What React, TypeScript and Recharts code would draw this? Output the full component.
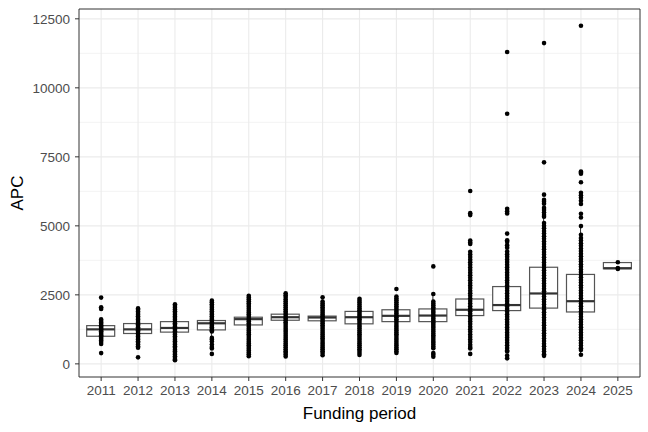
/**
 * APC by funding period — box plots with every observation drawn on top
 */

import React from "react";
import {
  ComposedChart,
  Bar,
  Scatter,
  XAxis,
  YAxis,
  CartesianGrid,
  ReferenceArea,
  Label,
} from "recharts";

const years = [
  "2011", "2012", "2013", "2014", "2015", "2016", "2017", "2018",
  "2019", "2020", "2021", "2022", "2023", "2024", "2025",
];

const q1 = [1000, 1100, 1150, 1230, 1410, 1580, 1560, 1450, 1530, 1530, 1750, 1930, 2020, 1880, 3445];
const medians = [1250, 1250, 1300, 1470, 1620, 1690, 1680, 1690, 1740, 1750, 1960, 2130, 2550, 2270, 3466];
const q3 = [1385, 1460, 1530, 1570, 1690, 1800, 1730, 1900, 1960, 1990, 2350, 2800, 3500, 3240, 3670];

const pts2011 = [2400, 2050, 1985, 1610, 1555, 1500, 1455, 1400, 1350, 1310, 1265, 1225, 1180, 1130, 1085, 1040, 990, 945, 900, 850, 790, 720, 390];
const pts2012 = [2010, 1960, 1900, 1845, 1780, 1725, 1660, 1605, 1550, 1490, 1435, 1380, 1325, 1270, 1215, 1160, 1105, 1050, 990, 935, 880, 820, 765, 700, 640, 585, 235];
const pts2013 = [2160, 2095, 2030, 1965, 1905, 1840, 1780, 1715, 1660, 1600, 1535, 1475, 1415, 1355, 1300, 1240, 1180, 1120, 1060, 1000, 935, 875, 820, 755, 700, 635, 580, 515, 460, 395, 335, 275, 215, 160, 130];
const pts2014 = [2290, 2230, 2160, 2095, 2030, 1965, 1905, 1845, 1785, 1725, 1665, 1610, 1550, 1495, 1440, 1385, 1330, 1275, 1220, 1170, 940, 880, 810, 700, 610, 560, 360];
const pts2015 = [2470, 2400, 2340, 2270, 2200, 2130, 2065, 1995, 1925, 1860, 1795, 1730, 1665, 1600, 1540, 1470, 1405, 1340, 1270, 1205, 1140, 1075, 1005, 940, 870, 805, 740, 675, 610, 545, 480, 415, 350, 280];
const pts2016 = [2560, 2490, 2420, 2345, 2270, 2195, 2120, 2050, 1980, 1910, 1845, 1775, 1710, 1645, 1580, 1510, 1440, 1370, 1300, 1230, 1160, 1090, 1020, 950, 880, 810, 740, 670, 600, 530, 460, 400, 335, 270];
const pts2017 = [2410, 2255, 2190, 2120, 2050, 1990, 1920, 1855, 1790, 1725, 1660, 1600, 1535, 1470, 1400, 1335, 1270, 1200, 1130, 1065, 995, 930, 860, 790, 725, 660, 590, 525, 460, 390, 315];
const pts2018 = [2360, 2290, 2220, 2150, 2080, 2010, 1945, 1880, 1810, 1745, 1680, 1615, 1550, 1480, 1410, 1345, 1280, 1210, 1140, 1075, 1005, 940, 870, 800, 735, 670, 600, 530, 465, 395, 320];
const pts2019 = [2710, 2440, 2370, 2300, 2230, 2160, 2090, 2025, 1955, 1885, 1820, 1750, 1685, 1620, 1550, 1480, 1410, 1345, 1275, 1210, 1140, 1070, 1005, 935, 870, 800, 730, 665, 595, 530, 460, 395];
const pts2020 = [3530, 2530, 2260, 2190, 2120, 2050, 1985, 1915, 1850, 1780, 1710, 1645, 1580, 1510, 1440, 1375, 1305, 1240, 1170, 1100, 1035, 970, 900, 830, 765, 700, 630, 570, 390, 330, 260];
const pts2021 = [6260, 5460, 5390, 4470, 4400, 4340, 4060, 3965, 3870, 3775, 3680, 3590, 3495, 3400, 3305, 3210, 3120, 3025, 2930, 2840, 2745, 2650, 2560, 2465, 2370, 2280, 2185, 2090, 2000, 1905, 1815, 1720, 1625, 1535, 1440, 1345, 1255, 1160, 1065, 975, 880, 790, 695, 610, 560, 360];
const pts2022 = [11300, 9060, 5620, 5530, 5450, 4720, 4480, 4420, 4300, 4210, 4070, 3975, 3880, 3785, 3690, 3595, 3500, 3405, 3310, 3215, 3120, 3030, 2935, 2840, 2745, 2650, 2555, 2460, 2365, 2275, 2180, 2085, 1990, 1895, 1800, 1705, 1615, 1520, 1425, 1330, 1235, 1140, 1045, 955, 860, 765, 670, 575, 480, 450, 300, 200];
const pts2023 = [11620, 7300, 6130, 5940, 5870, 5800, 5650, 5570, 5480, 5390, 5330, 5100, 5005, 4910, 4815, 4720, 4625, 4530, 4435, 4340, 4245, 4150, 4055, 3960, 3865, 3770, 3675, 3580, 3485, 3390, 3295, 3200, 3105, 3010, 2915, 2820, 2725, 2630, 2535, 2440, 2345, 2250, 2155, 2060, 1965, 1870, 1775, 1680, 1585, 1490, 1395, 1300, 1205, 1110, 1015, 920, 825, 730, 635, 540, 445, 350, 290];
const pts2024 = [12250, 6970, 6930, 6890, 6580, 6200, 6110, 6020, 5910, 5790, 5440, 5300, 4990, 4680, 4560, 4465, 4370, 4275, 4180, 4085, 3990, 3895, 3800, 3705, 3610, 3515, 3420, 3325, 3230, 3135, 3040, 2945, 2850, 2755, 2660, 2565, 2470, 2375, 2280, 2185, 2090, 1995, 1900, 1805, 1710, 1615, 1520, 1425, 1330, 1235, 1140, 1045, 950, 855, 760, 665, 570, 500, 330];
const pts2025 = [3440, 3470, 3680];

const points = [
  pts2011, pts2012, pts2013, pts2014, pts2015, pts2016, pts2017, pts2018,
  pts2019, pts2020, pts2021, pts2022, pts2023, pts2024, pts2025,
];

const yTicks = [0, 2500, 5000, 7500, 10000, 12500];
const yMinor = [1250, 3750, 6250, 8750, 11250];
const xTicks = years.map((_, i) => i + 1);

// whiskers: furthest observation within 1.5 * IQR of the box
function whiskers(i: number): [number, number] {
  const iqr = q3[i] - q1[i];
  const inside = points[i].filter((v) => v >= q1[i] - 1.5 * iqr && v <= q3[i] + 1.5 * iqr);
  return [Math.min(q1[i], ...inside), Math.max(q3[i], ...inside)];
}

const boxData = years.map((year, i) => ({
  x: i + 1,
  year,
  range: whiskers(i),
  q1: q1[i],
  median: medians[i],
  q3: q3[i],
}));

const pointData = points.flatMap((arr, i) => arr.map((v) => ({ x: i + 1, y: v })));

// ggplot-style 5% expansion
const allVals = points.flat();
const dataMin = Math.min(...allVals);
const dataMax = Math.max(...allVals);
const pad = (dataMax - dataMin) * 0.05;
const yDomain: [number, number] = [dataMin - pad, dataMax + pad];

const FONT = "'Liberation Sans', Arial, Helvetica, sans-serif";
const GRID = "#EBEBEB";

function BoxShape(props: any) {
  const { x, y, width, height, payload } = props;
  const top = Math.min(y, y + height);
  const bottom = Math.max(y, y + height);
  const [lo, hi] = payload.range;
  const toPx = (v: number) => (hi === lo ? top : top + ((hi - v) / (hi - lo)) * (bottom - top));
  const cx = x + width / 2;
  const yq3 = toPx(payload.q3);
  const yq1 = toPx(payload.q1);
  const ymed = toPx(payload.median);
  return (
    <g>
      <line x1={cx} x2={cx} y1={top} y2={yq3} stroke="#333" strokeWidth={1} />
      <line x1={cx} x2={cx} y1={yq1} y2={bottom} stroke="#333" strokeWidth={1} />
      <rect x={x} y={yq3} width={width} height={yq1 - yq3} fill="#fff" stroke="#555" strokeWidth={1.2} />
      <line x1={x} x2={x + width} y1={ymed} y2={ymed} stroke="#333" strokeWidth={2.2} />
    </g>
  );
}

function Dot(props: any) {
  return <circle cx={props.cx} cy={props.cy} r={2.3} fill="#000" />;
}

export default function App() {
  return (
    <div style={{ position: "absolute", left: 0, top: 0, background: "#fff" }}>
      <ComposedChart
        width={648}
        height={432}
        data={boxData}
        margin={{ top: 9, right: 8, bottom: 0, left: 0 }}
      >
        <CartesianGrid stroke={GRID} strokeWidth={0.6} vertical={false} horizontalValues={yMinor} />
        <CartesianGrid stroke={GRID} strokeWidth={1.1} verticalValues={xTicks} horizontalValues={yTicks} />
        <XAxis
          dataKey="x"
          type="number"
          domain={[0.4, 15.6]}
          ticks={xTicks}
          allowDataOverflow
          interval={0}
          tickFormatter={(v) => years[v - 1]}
          axisLine={false}
          tickLine={{ stroke: "#333" }}
          tickSize={4}
          tickMargin={4}
          height={55}
          tick={{ fill: "#4D4D4D", fontSize: 13.5, fontFamily: FONT }}
        >
          <Label
            content={({ viewBox }: any) => (
              <text
                x={viewBox.x + viewBox.width / 2}
                y={413}
                textAnchor="middle"
                dominantBaseline="central"
                fontSize={17}
                fontFamily={FONT}
                fill="#000"
              >
                Funding period
              </text>
            )}
          />
        </XAxis>
        <YAxis
          type="number"
          domain={yDomain}
          ticks={yTicks}
          allowDataOverflow
          axisLine={false}
          tickLine={{ stroke: "#333" }}
          tickSize={4}
          tickMargin={5}
          width={79}
          tick={{ fill: "#4D4D4D", fontSize: 13.5, fontFamily: FONT }}
        >
          <Label
            content={({ viewBox }: any) => (
              <text
                transform={`translate(17,${viewBox.y + viewBox.height / 2}) rotate(-90)`}
                textAnchor="middle"
                dominantBaseline="central"
                fontSize={17}
                fontFamily={FONT}
                fill="#000"
              >
                APC
              </text>
            )}
          />
        </YAxis>
        <Bar dataKey="range" barSize={28} shape={<BoxShape />} isAnimationActive={false} />
        <Scatter data={pointData} dataKey="y" shape={<Dot />} isAnimationActive={false} />
        <ReferenceArea
          x1={0.4}
          x2={15.6}
          y1={yDomain[0]}
          y2={yDomain[1]}
          fill="none"
          fillOpacity={0}
          stroke="#333"
          strokeWidth={1}
          ifOverflow="visible"
        />
      </ComposedChart>
    </div>
  );
}
